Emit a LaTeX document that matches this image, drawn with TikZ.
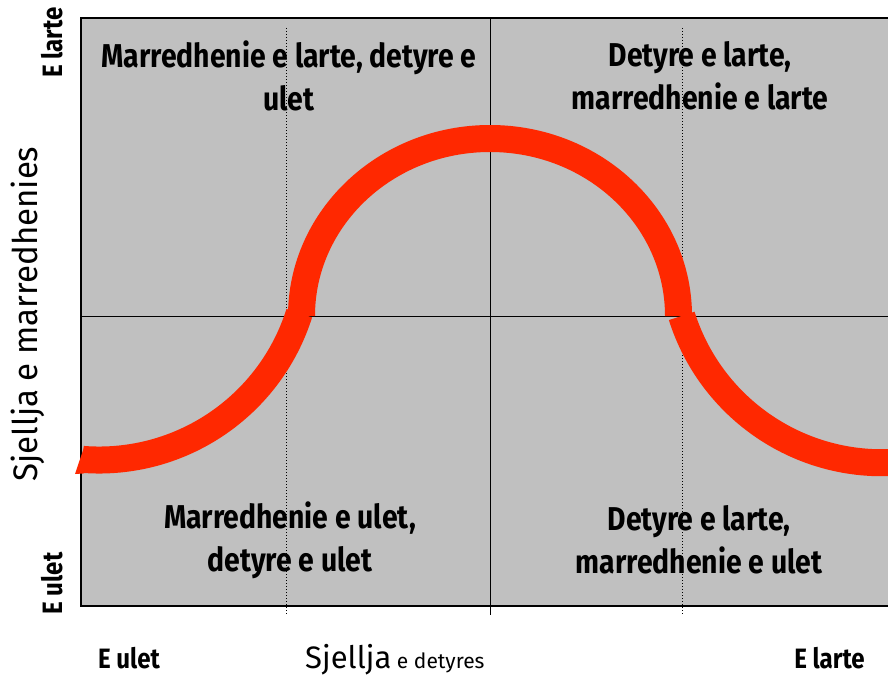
\documentclass[tikz,border=0pt]{standalone}
\usepackage{fontspec}
\setmainfont{Fira Sans}
\newfontfamily\condbf[FakeStretch=0.86]{Fira Sans}
\newfontfamily\condrg[FakeStretch=0.97]{Fira Sans}
\definecolor{quadgray}{RGB}{192,192,192}
\definecolor{bandred}{RGB}{255,40,0}
\tikzset{
  qtext/.style={align=center, font=\condbf\bfseries\fontsize{33}{43}\selectfont, inner sep=0pt},
  axlab/.style={font=\condbf\bfseries\fontsize{28}{28}\selectfont, inner sep=0pt, anchor=base},
  divline/.style={draw=black, line width=1pt},
  dotline/.style={draw=black, line width=1pt, dotted},
  redband/.style={draw=bandred, line width=27pt, line cap=butt}
}
\begin{document}
\begin{tikzpicture}[x=1pt,y=-1pt]
\useasboundingbox (0,0) rectangle (888,685);
% panel
\draw[fill=quadgray, line width=1.6pt] (81,18) rectangle (895,606);
% coordinates
\coordinate (dl1) at (286,28);  \coordinate (dl2) at (286,614);
\coordinate (dr1) at (682,28);  \coordinate (dr2) at (682,614);
\coordinate (hl) at (81,316);   \coordinate (hr) at (895,316);
\coordinate (vt) at (490,18);   \coordinate (vb) at (490,615);
\draw[dotline] (dl1) -- (dl2);
\draw[dotline] (dr1) -- (dr2);
\draw[divline] (hl) -- (hr);
\draw[divline] (vt) -- (vb);
% red curve
\coordinate (lstart) at (82.9,459.4);
\coordinate (tstart) at (301.5,316);
\coordinate (rstart) at (681.7,315.9);
\draw[redband] (lstart) arc[start angle=94.4, end angle=17.5, radius=210];
\draw[redband] (tstart) arc[start angle=180, end angle=360, x radius=188.5, y radius=177.5];
\draw[redband] (rstart) arc[start angle=162.5, end angle=85.6, radius=210];
\fill[bandred] (84.5,446) -- (75,474) -- (83.5,473.5) -- cycle;
% quadrant labels
\node[qtext] (tl) at (289,76) {Marredhenie e larte, detyre e\\ulet};
\node[qtext] (tr) at (700,76) {Detyre e larte,\\marredhenie e larte};
\node[qtext] (bl) at (290,540) {Marredhenie e ulet,\\detyre e ulet};
\node[qtext] (br) at (699,540) {Detyre e larte,\\marredhenie e ulet};
% axis labels
\node[axlab, rotate=90] (yhi) at (62,42.5) {E larte};
\node[axlab, rotate=90] (ylo) at (62,583.5) {E ulet};
\node[axlab] (xlo) at (129,668) {E ulet};
\node[axlab] (xhi) at (829.5,668) {E larte};
\node[inner sep=0pt, anchor=base, rotate=90, font=\condrg\fontsize{34}{34}\selectfont] (ytitle) at (37,314) {Sjellja e marredhenies};
\node[inner sep=0pt, anchor=base west] (xtitle) at (305,668) {\fontsize{31}{31}\selectfont Sjellja\fontsize{21}{21}\selectfont\ e detyres};
\end{tikzpicture}
\end{document}
